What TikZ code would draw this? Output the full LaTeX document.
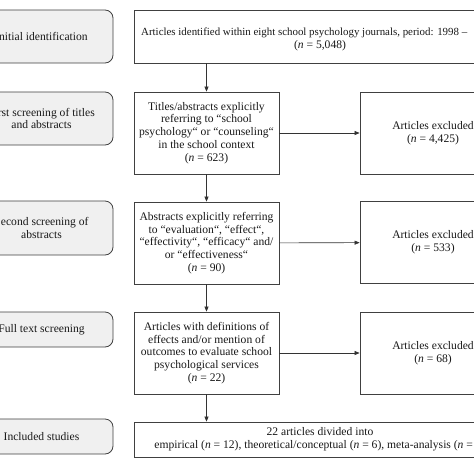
\documentclass[tikz,border=0pt]{standalone}
\usepackage{fontspec}
\setmainfont{Liberation Serif}
\usetikzlibrary{arrows.meta}
\begin{document}
\begin{tikzpicture}[x=1pt,y=-1pt,
  every node/.style={font=\fontsize{11.6}{12.8}\selectfont, text=black!90},
  box/.style={draw=black!75, line width=0.8pt, inner sep=0pt, align=center},
  stage/.style={box, rounded corners=8pt, fill=black!6, minimum width=143pt},
  mid/.style={box, minimum width=145pt, minimum height=82pt},
  excl/.style={box, minimum width=146pt, minimum height=82pt},
  arr/.style={-{Triangle[length=5pt,width=4pt]}, draw=black!80, line width=0.6pt}]
\useasboundingbox (0,0) rectangle (474,474);
\clip (0,0) rectangle (474,474);
\fill[white] (0,0) rectangle (474,474);
% left stage boxes
\node[stage, minimum height=53pt] (l1) at (41.5,36.5) {Initial identification};
\node[stage, minimum height=53pt] (l2) at (41.5,118.5) {First screening of titles\\and abstracts};
\node[stage, minimum height=54pt] (l3) at (41.5,228) {Second screening of\\abstracts};
\node[stage, minimum height=35pt] (l4) at (41.5,329.5) {Full text screening};
\node[stage, minimum height=35pt] (l5) at (41.5,436.5) {Included studies};
% top box
\node[box, minimum width=372pt, minimum height=53pt] (m1) at (320,36.5) {};
\node[anchor=base west, inner sep=0pt, font=\fontsize{10.9}{12.8}\selectfont] (m1a) at (141,35.5) {Articles identified within eight school psychology journals, period: 1998 --};
\node[anchor=base, inner sep=0pt] (m1b) at (320,48.3) {(\textit{n} = 5,048)};
% middle boxes
\node[mid] (m2) at (206.5,133) {Titles/abstracts explicitly\\referring to “school\\psychology“ or “counseling“\\in the school context\\(\textit{n} = 623)};
\node[mid] (m3) at (206.5,243) {Abstracts explicitly referring\\to “evaluation“, “effect“,\\“effectivity“, “efficacy“ and/\\or “effectiveness“\\(\textit{n} = 90)};
\node[mid] (m4) at (206.5,353) {Articles with definitions of\\effects and/or mention of\\outcomes to evaluate school\\psychological services\\(\textit{n} = 22)};
% excluded boxes
\node[excl] (r2) at (433,133) {Articles excluded\\(\textit{n} = 4,425)};
\node[excl] (r3) at (433,242.5) {Articles excluded\\(\textit{n} = 533)};
\node[excl] (r4) at (433,353) {Articles excluded\\(\textit{n} = 68)};
% bottom box
\node[box, minimum width=372pt, minimum height=35pt] (m5) at (320,439.5) {22 articles divided into\\empirical (\textit{n} = 12), theoretical/conceptual (\textit{n} = 6), meta-analysis (\textit{n} = 4)};
% arrows
\draw[arr] (m2.north |- m1.south) -- (m2.north);
\draw[arr] (m2) -- (r2);
\draw[arr] (m2) -- (m3);
\draw[arr] (m3) -- (r3);
\draw[arr] (m3) -- (m4);
\draw[arr] (m4) -- (r4);
\draw[arr] (m4.south) -- (m4.south |- m5.north);
\end{tikzpicture}
\end{document}
